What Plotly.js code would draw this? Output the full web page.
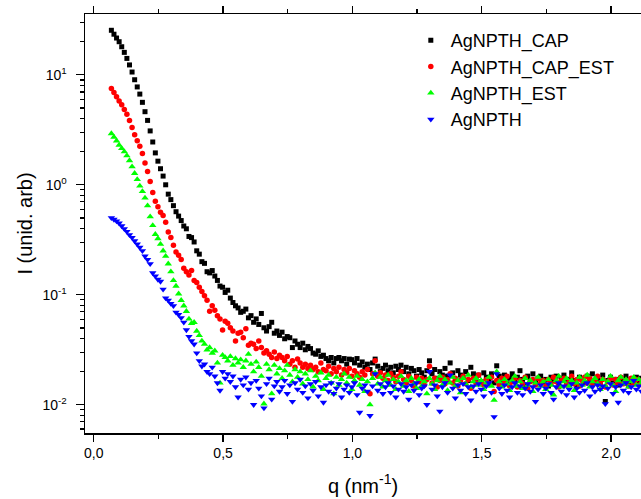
<!DOCTYPE html>
<html>
<head>
<meta charset="utf-8">
<script src="https://cdn.plot.ly/plotly-3.0.1.min.js"></script>
<style>html,body{margin:0;padding:0;background:#fff;}#chart{width:641px;height:499px;}</style>
</head>
<body>
<div id="chart"></div>
<script>
// Scattering vector q (nm^-1)
var q = [
0.068,0.078,0.088,0.098,0.108,0.118,0.128,0.138,0.148,0.158,
0.168,0.178,0.188,0.198,0.208,0.218,0.228,0.238,0.248,0.258,
0.268,0.278,0.288,0.298,0.308,0.318,0.328,0.338,0.348,0.358,
0.368,0.378,0.388,0.398,0.408,0.418,0.428,0.438,0.448,0.458,
0.468,0.478,0.488,0.498,0.508,0.518,0.528,0.538,0.548,0.558,
0.568,0.578,0.588,0.598,0.608,0.618,0.628,0.638,0.648,0.658,
0.668,0.678,0.688,0.698,0.708,0.718,0.728,0.738,0.748,0.758,
0.768,0.778,0.788,0.798,0.808,0.818,0.828,0.838,0.848,0.858,
0.868,0.878,0.888,0.898,0.908,0.918,0.928,0.938,0.948,0.958,
0.968,0.978,0.988,0.998,1.008,1.018,1.028,1.038,1.048,1.058,
1.068,1.078,1.088,1.098,1.108,1.118,1.128,1.138,1.148,1.158,
1.168,1.178,1.188,1.198,1.208,1.218,1.228,1.238,1.248,1.258,
1.268,1.278,1.288,1.298,1.308,1.318,1.328,1.338,1.348,1.358,
1.368,1.378,1.388,1.398,1.408,1.418,1.428,1.438,1.448,1.458,
1.468,1.478,1.488,1.498,1.508,1.518,1.528,1.538,1.548,1.558,
1.568,1.578,1.588,1.598,1.608,1.618,1.628,1.638,1.648,1.658,
1.668,1.678,1.688,1.698,1.708,1.718,1.728,1.738,1.748,1.758,
1.768,1.778,1.788,1.798,1.808,1.818,1.828,1.838,1.848,1.858,
1.868,1.878,1.888,1.898,1.908,1.918,1.928,1.938,1.948,1.958,
1.968,1.978,1.988,1.998,2.008,2.018,2.028,2.038,2.048,2.058,
2.068,2.078,2.088,2.098,2.108,2.118];

var agnpthCap = [
25.4,23.4,21.6,20.0,18.0,16.0,14.1,12.3,10.6,9.02,
7.76,6.68,5.62,4.62,3.85,3.09,2.45,1.95,1.64,1.40,
1.20,1.00,0.822,0.733,0.646,0.569,0.519,0.473,0.422,0.398,
0.339,0.331,0.302,0.251,0.234,0.200,0.193,0.162,0.158,0.166,
0.148,0.135,0.120,0.117,0.105,0.110,0.0933,0.0851,0.0794,0.0759,
0.0692,0.0708,0.0741,0.0617,0.0646,0.0562,0.0603,0.0537,0.0676,0.0501,
0.0468,0.0513,0.0562,0.0447,0.0468,0.0427,0.0457,0.0398,0.0417,0.0407,
0.0331,0.0380,0.0355,0.0331,0.0363,0.0316,0.0339,0.0324,0.0295,0.0288,
0.0309,0.0275,0.0282,0.0263,0.0251,0.0269,0.0240,0.0263,0.0269,0.0251,
0.0263,0.0234,0.0260,0.0257,0.0240,0.0263,0.0229,0.0245,0.0219,0.0234,
0.0209,0.0240,0.0260,0.0224,0.0200,0.0214,0.0229,0.0204,0.0219,0.0195,
0.0224,0.0209,0.0229,0.0200,0.0219,0.0191,0.0214,0.0204,0.0182,0.0209,
0.0195,0.0178,0.0204,0.0251,0.0191,0.0209,0.0174,0.0200,0.0186,0.0214,
0.0182,0.0240,0.0195,0.0170,0.0204,0.0186,0.0178,0.0200,0.0166,0.0219,
0.0191,0.0174,0.0186,0.0162,0.0195,0.0178,0.0170,0.0191,0.0158,0.0226,
0.0182,0.0166,0.0186,0.0155,0.0174,0.0191,0.0162,0.0178,0.0204,0.0170,
0.0151,0.0182,0.0166,0.0191,0.0158,0.0174,0.0182,0.0162,0.0170,0.0148,
0.0178,0.0166,0.0182,0.0158,0.0174,0.0186,0.0162,0.0170,0.0195,0.0166,
0.0151,0.0178,0.0170,0.0158,0.0182,0.0166,0.0191,0.0162,0.0174,0.0155,
0.0186,0.0107,0.0166,0.0178,0.0158,0.0170,0.0151,0.0174,0.0162,0.0182,
0.0155,0.0170,0.0158,0.0178,0.0162,0.0174];

var agnpthCapEst = [
7.50,6.89,6.31,5.78,5.35,4.85,4.37,3.85,3.31,2.85,
2.51,2.24,1.93,1.58,1.32,1.07,0.851,0.708,0.631,0.562,
0.525,0.457,0.372,0.331,0.282,0.245,0.229,0.209,0.174,0.162,
0.151,0.166,0.135,0.129,0.117,0.107,0.0977,0.0891,0.0708,0.0794,
0.0724,0.0646,0.0603,0.0479,0.0575,0.0550,0.0501,0.0468,0.0380,0.0447,
0.0457,0.0407,0.0490,0.0347,0.0363,0.0355,0.0324,0.0380,0.0331,0.0295,
0.0309,0.0288,0.0269,0.0302,0.0263,0.0282,0.0269,0.0251,0.0275,0.0234,
0.0251,0.0219,0.0260,0.0240,0.0219,0.0234,0.0214,0.0229,0.0209,0.0219,
0.0200,0.0240,0.0209,0.0204,0.0224,0.0191,0.0214,0.0200,0.0219,0.0186,
0.0209,0.0195,0.0214,0.0182,0.0204,0.0191,0.0178,0.0200,0.0186,0.0209,
0.0126,0.0191,0.0251,0.0182,0.0195,0.0174,0.0186,0.0166,0.0191,0.0178,
0.0162,0.0182,0.0200,0.0170,0.0158,0.0182,0.0166,0.0148,0.0178,0.0162,
0.0174,0.0151,0.0170,0.0224,0.0158,0.0174,0.0145,0.0166,0.0178,0.0155,
0.0170,0.0191,0.0158,0.0174,0.0148,0.0166,0.0182,0.0155,0.0170,0.0141,
0.0174,0.0158,0.0186,0.0162,0.0151,0.0170,0.0155,0.0178,0.0132,0.0166,
0.0151,0.0174,0.0158,0.0182,0.0148,0.0162,0.0174,0.0145,0.0166,0.0155,
0.0178,0.0141,0.0162,0.0170,0.0151,0.0174,0.0158,0.0166,0.0148,0.0170,
0.0155,0.0178,0.0162,0.0145,0.0166,0.0174,0.0151,0.0162,0.0182,0.0155,
0.0170,0.0148,0.0166,0.0178,0.0158,0.0174,0.0151,0.0166,0.0182,0.0155,
0.0170,0.0145,0.0162,0.0174,0.0151,0.0170,0.0158,0.0178,0.0155,0.0166,
0.0148,0.0174,0.0158,0.0170,0.0151,0.0166];

var agnpthEst = [
2.92,2.72,2.51,2.30,2.14,2.00,1.84,1.66,1.46,1.27,
1.12,0.977,0.871,0.759,0.646,0.513,0.427,0.355,0.324,0.288,
0.251,0.224,0.191,0.162,0.135,0.120,0.102,0.0891,0.0794,0.0708,
0.0603,0.0550,0.0562,0.0468,0.0427,0.0380,0.0355,0.0316,0.0331,0.0295,
0.0309,0.0240,0.0158,0.0282,0.0269,0.0251,0.0275,0.0229,0.0263,0.0240,
0.0257,0.0219,0.0251,0.0288,0.0234,0.0200,0.0245,0.0219,0.0182,0.0102,
0.0234,0.0209,0.0126,0.0229,0.0191,0.0214,0.0174,0.0204,0.0229,0.0186,
0.0162,0.0209,0.0178,0.0200,0.0155,0.0191,0.0170,0.0204,0.0145,0.0182,
0.0166,0.0195,0.0138,0.0174,0.0186,0.0158,0.0126,0.0178,0.0151,0.0170,
0.0191,0.0158,0.0178,0.0138,0.0166,0.0182,0.0151,0.0170,0.0132,0.0162,
0.0100,0.0174,0.0195,0.0155,0.0178,0.0145,0.0166,0.0186,0.0151,0.0170,
0.0138,0.0162,0.0182,0.0148,0.0166,0.0132,0.0174,0.0155,0.0141,0.0170,
0.0148,0.0162,0.0126,0.0174,0.0155,0.0138,0.0166,0.0182,0.0151,0.0170,
0.0135,0.0158,0.0178,0.0148,0.0166,0.0129,0.0174,0.0155,0.0186,0.0145,
0.0162,0.0174,0.0151,0.0166,0.0138,0.0158,0.0178,0.0148,0.0110,0.0200,
0.0162,0.0145,0.0170,0.0155,0.0135,0.0166,0.0182,0.0148,0.0162,0.0141,
0.0174,0.0151,0.0166,0.0132,0.0158,0.0178,0.0148,0.0162,0.0138,0.0170,
0.0151,0.0123,0.0166,0.0182,0.0145,0.0162,0.0174,0.0148,0.0166,0.0135,
0.0158,0.0178,0.0151,0.0166,0.0186,0.0145,0.0162,0.0174,0.0155,0.0138,
0.0170,0.0148,0.0162,0.0182,0.0151,0.0132,0.0166,0.0178,0.0155,0.0170,
0.0145,0.0162,0.0178,0.0151,0.0170,0.0158];

var agnpth = [
0.501,0.484,0.468,0.447,0.422,0.398,0.376,0.351,0.331,0.309,
0.288,0.269,0.251,0.224,0.209,0.191,0.158,0.148,0.138,0.132,
0.112,0.0933,0.0891,0.0832,0.0794,0.0692,0.0661,0.0617,0.0562,0.0479,
0.0417,0.0380,0.0355,0.0295,0.0251,0.0224,0.0234,0.0200,0.0191,0.0219,
0.0182,0.0158,0.0135,0.0200,0.0174,0.0191,0.0162,0.0182,0.0145,0.0117,
0.0170,0.0151,0.0178,0.0138,0.0158,0.0100,0.0166,0.0141,0.0120,0.00933,
0.0155,0.0174,0.0112,0.0148,0.0162,0.0132,0.0145,0.0166,0.0126,0.0151,
0.0107,0.0158,0.0138,0.0170,0.0129,0.0148,0.0115,0.0155,0.0135,0.0162,
0.0120,0.0145,0.0105,0.0151,0.0132,0.0158,0.0126,0.0141,0.0155,0.0117,
0.0138,0.0151,0.0129,0.0145,0.0158,0.0123,0.00851,0.0141,0.0151,0.0132,
0.00794,0.0148,0.0191,0.0135,0.0155,0.0126,0.0145,0.0158,0.0129,0.0148,
0.0117,0.0138,0.0155,0.0132,0.0145,0.0112,0.0151,0.0135,0.0158,0.0123,
0.0141,0.0148,0.0100,0.0200,0.0138,0.0151,0.0120,0.00871,0.0145,0.0158,
0.0129,0.0186,0.0141,0.0115,0.0151,0.0135,0.0155,0.0126,0.0145,0.0110,
0.0148,0.0132,0.0155,0.0138,0.0120,0.0148,0.0158,0.0129,0.00776,0.0191,
0.0141,0.0126,0.0151,0.0135,0.0117,0.0145,0.0158,0.0129,0.0148,0.0123,
0.0141,0.0155,0.0132,0.0145,0.0107,0.0138,0.0151,0.0126,0.0141,0.0155,
0.0129,0.0112,0.0145,0.0158,0.0132,0.0148,0.0123,0.0138,0.0155,0.0117,
0.0141,0.0129,0.0151,0.0135,0.0158,0.0120,0.0145,0.0132,0.0151,0.0138,
0.0148,0.0102,0.0141,0.0155,0.0126,0.0145,0.0105,0.0151,0.0135,0.0158,
0.0129,0.0145,0.0166,0.0138,0.0148,0.0132];

var seriesNames = ['AgNPTH_CAP', 'AgNPTH_CAP_EST', 'AgNPTH_EST', 'AgNPTH'];
var yTickVals = [0.01, 0.1, 1, 10];
var yTickText = ['10<sup>-2</sup>', '10<sup>-1</sup>', '10<sup>0</sup>', '10<sup>1</sup>'];
var xRange = [-0.034, 2.116];

var FONT = 'Liberation Sans, Arial, sans-serif';

var traces = [
  {x: q, y: agnpthCap, name: seriesNames[0], type: 'scatter', mode: 'markers',
   marker: {symbol: 'square', size: 5, color: '#000000'}},
  {x: q, y: agnpthCapEst, name: seriesNames[1], type: 'scatter', mode: 'markers',
   marker: {symbol: 'circle', size: 5.5, color: '#ff0000'}},
  {x: q, y: agnpthEst, name: seriesNames[2], type: 'scatter', mode: 'markers',
   marker: {symbol: 'triangle-up', size: 6.5, color: '#00ff00'}},
  {x: q, y: agnpth, name: seriesNames[3], type: 'scatter', mode: 'markers',
   marker: {symbol: 'triangle-down', size: 6.5, color: '#0000ff'}}
];

var layout = {
  width: 641, height: 499,
  margin: {l: 85, r: 0, t: 14, b: 66},
  paper_bgcolor: '#ffffff', plot_bgcolor: '#ffffff',
  separators: ', ',
  font: {family: FONT, color: '#000000', size: 14},
  showlegend: true,
  legend: {
    x: 0.586, y: 0.981, xanchor: 'left', yanchor: 'top',
    bgcolor: 'rgba(0,0,0,0)', borderwidth: 0,
    font: {family: FONT, size: 18, color: '#000000'},
    itemsizing: 'trace'
  },
  xaxis: {
    range: xRange, autorange: false,
    dtick: 0.5, tick0: 0, tickformat: '.1f',
    ticks: 'outside', ticklen: 7, tickwidth: 1.3, tickcolor: '#000',
    minor: {ticks: 'outside', ticklen: 4, tickwidth: 1.3, tickcolor: '#000', dtick: 0.25, tick0: 0},
    showline: true, mirror: 'ticks', linecolor: '#000', linewidth: 1.5,
    showgrid: false, zeroline: false,
    tickfont: {family: FONT, size: 14, color: '#000'},
    title: {text: 'q (nm<sup>-1</sup>)', font: {family: FONT, size: 20, color: '#000'}, standoff: 18}
  },
  yaxis: {
    type: 'log', range: [-2.257, 1.553], autorange: false,
    tickvals: yTickVals, ticktext: yTickText,
    ticks: 'outside', ticklen: 8, tickwidth: 1.3, tickcolor: '#000',
    minor: {ticks: 'outside', ticklen: 4, tickwidth: 1.3, tickcolor: '#000', dtick: 'D1'},
    showline: true, linecolor: '#000', linewidth: 1.5,
    showgrid: false, zeroline: false,
    ticklabelstandoff: 6,
    tickfont: {family: FONT, size: 14, color: '#000'},
    title: {text: 'I (unid. arb)', font: {family: FONT, size: 20, color: '#000'}, standoff: 4}
  }
};

Plotly.newPlot('chart', traces, layout, {staticPlot: true, displayModeBar: false});
</script>
</body>
</html>
